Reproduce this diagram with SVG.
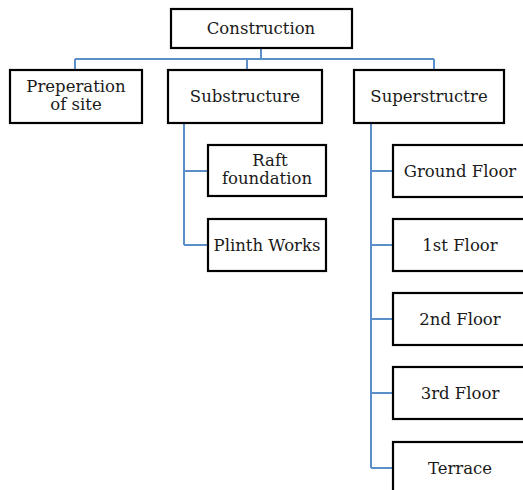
<svg xmlns="http://www.w3.org/2000/svg" width="523" height="490" viewBox="0 0 523 490">
<style>
.box{fill:#fff;stroke:#000;stroke-width:2.2}
.lbl{font-family:"DejaVu Serif","Liberation Serif",serif;font-size:16.5px;fill:#1a1a1a;text-anchor:middle}
.con{fill:none;stroke:#5B8FC9;stroke-width:2}
</style>
<rect width="523" height="490" fill="#fff"/>
<g id="connectors">
<path class="con" d="M261 48V59M75 59H434M75 59V70M247 59V70M434 59V70"/>
<path class="con" d="M184 123V245M184 171H208M184 245H208"/>
<path class="con" d="M371 123V468M371 171H393M371 245H393M371 319H393M371 393H393M371 468H393"/>
</g>
<g id="construction"><rect class="box" x="171" y="9" width="181" height="39"/><text class="lbl" x="261" y="34">Construction</text></g>
<g id="preperation"><rect class="box" x="10" y="70" width="132" height="53"/><text class="lbl" x="76" y="92">Preperation</text><text class="lbl" x="76" y="110">of site</text></g>
<g id="substructure"><rect class="box" x="168" y="70" width="154" height="53"/><text class="lbl" x="245" y="102">Substructure</text></g>
<g id="superstructre"><rect class="box" x="354" y="70" width="150" height="53"/><text class="lbl" x="429" y="102">Superstructre</text></g>
<g id="raft"><rect class="box" x="208" y="145" width="118" height="51"/><text class="lbl" x="270" y="166">Raft</text><text class="lbl" x="267" y="184">foundation</text></g>
<g id="plinth"><rect class="box" x="208" y="219" width="118" height="52"/><text class="lbl" x="267" y="251">Plinth Works</text></g>
<g id="ground"><rect class="box" x="393" y="145" width="134" height="52"/><text class="lbl" x="460" y="177">Ground Floor</text></g>
<g id="first"><rect class="box" x="393" y="219" width="134" height="52"/><text class="lbl" x="460" y="251">1st Floor</text></g>
<g id="second"><rect class="box" x="393" y="293" width="134" height="52"/><text class="lbl" x="460" y="325">2nd Floor</text></g>
<g id="third"><rect class="box" x="393" y="367" width="134" height="52"/><text class="lbl" x="460" y="399">3rd Floor</text></g>
<g id="terrace"><rect class="box" x="393" y="442" width="134" height="60"/><text class="lbl" x="460" y="474">Terrace</text></g>
</svg>
